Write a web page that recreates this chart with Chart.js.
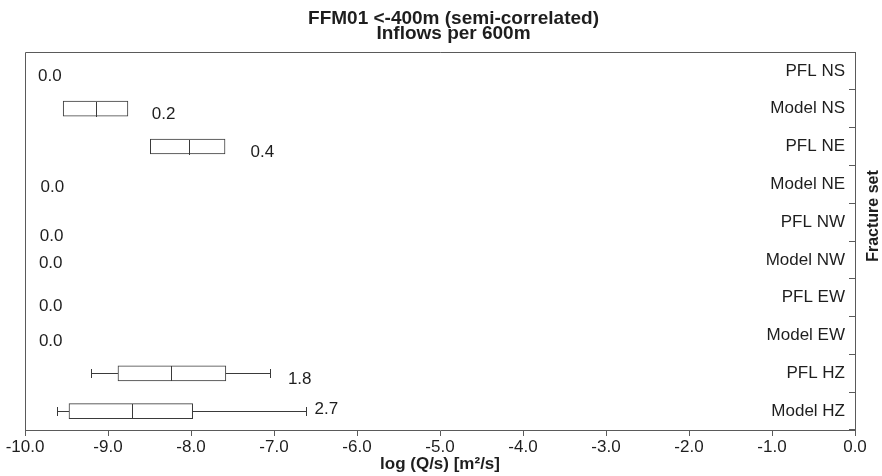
<!DOCTYPE html>
<html>
<head>
<meta charset="utf-8">
<script src="https://cdn.jsdelivr.net/npm/chart.js@4/dist/chart.umd.min.js"></script>
<style>
  html, body { margin: 0; padding: 0; background: #fff; }
  #wrap { width: 882px; height: 476px; position: relative; }
</style>
</head>
<body>
<div id="wrap"><canvas id="c" width="882" height="476"></canvas></div>
<script>
// ---- data ----
const categories = ['PFL NS', 'Model NS', 'PFL NE', 'Model NE', 'PFL NW', 'Model NW', 'PFL EW', 'Model EW', 'PFL HZ', 'Model HZ'];
const whiskerLow  = [null, null,  null,  null, null, null, null, null, -9.21, -9.61];
const q1          = [null, -9.54, -8.49, null, null, null, null, null, -8.88, -9.47];
const median      = [null, -9.14, -8.03, null, null, null, null, null, -8.24, -8.71];
const q3          = [null, -8.76, -7.59, null, null, null, null, null, -7.58, -7.98];
const whiskerHigh = [null, null,  null,  null, null, null, null, null, -7.05, -6.62];
const counts      = ['0.0', '0.2', '0.4', '0.0', '0.0', '0.0', '0.0', '0.0', '1.8', '2.7'];
// where each count label sits (axis units) and how far below the row centre (fraction of a row)
const countLabelX    = [-9.70, -8.33, -7.14, -9.67, -9.68, -9.69, -9.69, -9.69, -6.69, -6.37];
const countLabelDrop = [0.13, 0.16, 0.16, 0.09, 0.37, 0.09, 0.22, 0.16, 0.17, -0.05];
const xTicks = [-10, -9, -8, -7, -6, -5, -4, -3, -2, -1, 0];

const FONT = "'Liberation Sans', Arial, Helvetica, sans-serif";
const LINE = '#3a3a3a';
const FRAME = '#5a5a5a';
const TEXT = '#1e1e1e';
const BOX_H = 15;
const CAP_H = 9;

const boxData = categories.map((c, i) => (q1[i] === null ? null : [q1[i], q3[i]]));

const boxPlugin = {
  id: 'boxParts',
  beforeDatasetsDraw(chart) {
    const { ctx, chartArea: a } = chart;
    ctx.save();
    ctx.strokeStyle = FRAME;
    ctx.lineWidth = 1;
    ctx.beginPath();
    ctx.moveTo(Math.round(a.left) + 0.5, Math.round(a.bottom));
    ctx.lineTo(Math.round(a.left) + 0.5, Math.round(a.top) + 0.5);
    ctx.lineTo(Math.round(a.right), Math.round(a.top) + 0.5);
    ctx.stroke();
    ctx.restore();
  },
  afterDatasetsDraw(chart) {
    const { ctx } = chart;
    const xs = chart.scales.x, ys = chart.scales.y;
    const row = ys.getPixelForValue(1) - ys.getPixelForValue(0);
    ctx.save();
    ctx.strokeStyle = LINE;
    ctx.lineWidth = 1;
    categories.forEach((c, i) => {
      const y = Math.round(ys.getPixelForValue(i)) + 0.5;
      if (whiskerLow[i] !== null) {
        const xl = Math.round(xs.getPixelForValue(whiskerLow[i])) + 0.5;
        const xb = xs.getPixelForValue(q1[i]);
        ctx.beginPath();
        ctx.moveTo(xl, y); ctx.lineTo(xb, y);
        ctx.moveTo(xl, y - CAP_H / 2); ctx.lineTo(xl, y + CAP_H / 2);
        ctx.stroke();
      }
      if (whiskerHigh[i] !== null) {
        const xh = Math.round(xs.getPixelForValue(whiskerHigh[i])) + 0.5;
        const xb = xs.getPixelForValue(q3[i]);
        ctx.beginPath();
        ctx.moveTo(xb, y); ctx.lineTo(xh, y);
        ctx.moveTo(xh, y - CAP_H / 2); ctx.lineTo(xh, y + CAP_H / 2);
        ctx.stroke();
      }
      if (median[i] !== null) {
        const xm = Math.round(xs.getPixelForValue(median[i])) + 0.5;
        ctx.beginPath();
        ctx.moveTo(xm, y - BOX_H / 2); ctx.lineTo(xm, y + BOX_H / 2);
        ctx.stroke();
      }
      // count labels
      ctx.fillStyle = TEXT;
      ctx.font = '17px ' + FONT;
      ctx.textAlign = 'center';
      ctx.textBaseline = 'middle';
      ctx.fillText(counts[i], xs.getPixelForValue(countLabelX[i]), ys.getPixelForValue(i) + countLabelDrop[i] * row);
    });
    // right-hand axis title, reading bottom to top
    ctx.translate(874, 216);
    ctx.rotate(-Math.PI / 2);
    ctx.font = 'bold 16px ' + FONT;
    ctx.fillStyle = TEXT;
    ctx.textAlign = 'center';
    ctx.textBaseline = 'middle';
    ctx.fillText('Fracture set', 0, 0);
    ctx.restore();
  }
};

new Chart(document.getElementById('c'), {
  type: 'bar',
  data: {
    labels: categories,
    datasets: [{
      data: boxData,
      backgroundColor: '#ffffff',
      borderColor: LINE,
      borderWidth: 1,
      borderSkipped: false,
      barThickness: BOX_H
    }]
  },
  options: {
    indexAxis: 'y',
    responsive: false,
    animation: false,
    events: [],
    layout: { padding: { left: 25, right: 0, top: 0, bottom: 0 } },
    plugins: {
      legend: { display: false },
      tooltip: { enabled: false },
      title: {
        display: true,
        text: ['FFM01 <-400m (semi-correlated)', 'Inflows per 600m'],
        color: TEXT,
        font: { family: FONT, size: 19, weight: 'bold', lineHeight: 0.75 },
        padding: { top: 12, bottom: 11.5 }
      }
    },
    scales: {
      x: {
        type: 'linear',
        min: -10, max: 0,
        afterBuildTicks: (s) => { s.ticks = xTicks.map(v => ({ value: v })); },
        ticks: {
          color: TEXT,
          font: { family: FONT, size: 17 },
          padding: 1,
          maxRotation: 0,
          callback: (v) => Number(v).toFixed(1)
        },
        grid: { drawOnChartArea: false, drawTicks: true, tickLength: 6, color: FRAME },
        border: { color: FRAME },
        title: {
          display: true,
          text: 'log (Q/s) [m²/s]',
          color: TEXT,
          font: { family: FONT, size: 17, weight: 'bold' },
          padding: { top: 0, bottom: 1 }
        },
        afterFit: (s) => { s.height = 46; }
      },
      y: {
        type: 'category',
        position: 'right',
        ticks: {
          mirror: true,
          padding: -10,
          color: TEXT,
          font: { family: FONT, size: 17 }
        },
        grid: { offset: true, drawOnChartArea: false, drawTicks: true, tickLength: -6, color: FRAME },
        border: { color: FRAME },
        afterFit: (s) => { s.width = 27; }
      }
    }
  },
  plugins: [boxPlugin]
});
</script>
</body>
</html>
